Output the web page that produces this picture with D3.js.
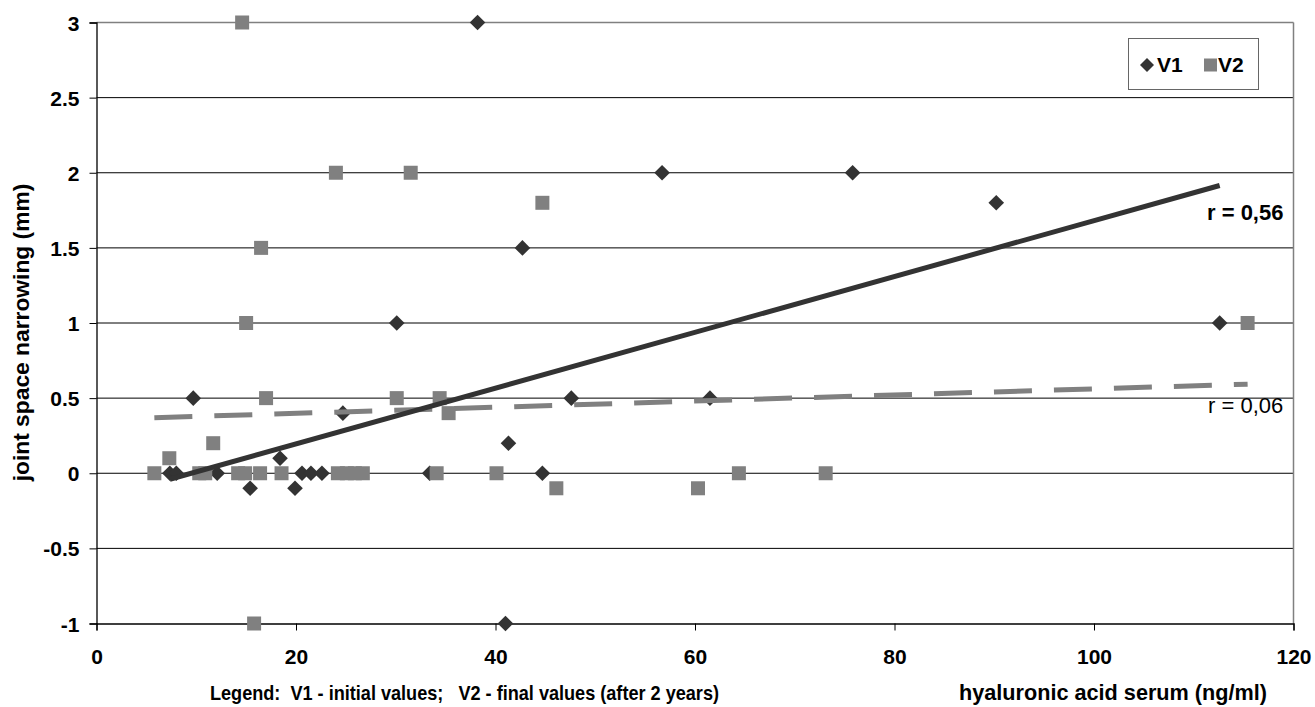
<!DOCTYPE html>
<html>
<head>
<meta charset="utf-8">
<script src="https://cdn.jsdelivr.net/npm/d3@7"></script>
<style>
  html, body { margin: 0; padding: 0; background: #fff; }
  svg { display: block; }
  text { font-family: Arial, "Liberation Sans", sans-serif; fill: #000; }
</style>
</head>
<body>
<svg id="chart" width="1315" height="707"></svg>
<script>
// ---- data ----
const v1X = [7.35, 8.0, 9.7, 12.1, 15.4, 18.4, 19.9, 20.6, 21.5, 22.6, 24.7, 30.1, 33.4, 38.2, 41.3, 41.0, 42.7, 44.7, 47.6, 56.7, 61.5, 75.8, 90.2, 112.6];
const v1Y = [0, 0, 0.5, 0, -0.1, 0.1, -0.1, 0, 0, 0, 0.4, 1, 0, 3, 0.2, -1, 1.5, 0, 0.5, 2, 0.5, 2, 1.8, 1];
const v2X = [5.8, 7.3, 10.3, 10.9, 11.7, 14.2, 14.9, 14.6, 15.0, 15.8, 16.4, 16.5, 17.0, 18.55, 24.0, 24.2, 25.1, 25.9, 26.7, 30.1, 31.5, 34.1, 34.4, 35.3, 40.1, 44.7, 46.1, 60.3, 64.4, 73.1, 115.4];
const v2Y = [0, 0.1, 0, 0, 0.2, 0, 0, 3, 1, -1, 0, 1.5, 0.5, 0, 2, 0, 0, 0, 0, 0.5, 2, 0, 0.5, 0.4, 0, 1.8, -0.1, -0.1, 0, 0, 1];
const v1TrendX = [7.35, 112.6];
const v1TrendY = [-0.04, 1.915];
const v2TrendX = [5.8, 115.4];
const v2TrendY = [0.37, 0.593];
const xTicks = [0, 20, 40, 60, 80, 100, 120];
const yTicks = [-1, -0.5, 0, 0.5, 1, 1.5, 2, 2.5, 3];
const seriesNames = ["V1", "V2"];
const rLabels = ["r = 0,56", "r = 0,06"];

// ---- layout ----
const svg = d3.select("#chart");
const L = 96.5, R = 1293.5, T = 22.5, B = 623.5;
const x = d3.scaleLinear().domain([0, 120]).range([L, R]);
const y = d3.scaleLinear().domain([-1, 3]).range([B, T]);
const cV1 = "#333333", cV2 = "#808080";

// gridlines
svg.append("g").selectAll("line").data(yTicks.filter(v => v > -1 && v < 3)).join("line")
  .attr("x1", L).attr("x2", R).attr("y1", d => y(d)).attr("y2", d => y(d))
  .attr("stroke", "#000").attr("stroke-width", 1);

// plot border (top/right grey)
svg.append("line").attr("x1", L).attr("x2", R).attr("y1", T).attr("y2", T).attr("stroke", "#808080").attr("stroke-width", 1.5);
svg.append("line").attr("x1", R).attr("x2", R).attr("y1", T).attr("y2", B).attr("stroke", "#808080").attr("stroke-width", 1.5);

// axes
const yAxis = d3.axisLeft(y).tickValues(yTicks).tickSize(7).tickPadding(10).tickFormat(d => String(d));
const gy = svg.append("g").attr("transform", `translate(${L},0)`).call(yAxis);
const xAxis = d3.axisBottom(x).tickValues(xTicks).tickSize(7).tickPadding(0).tickFormat(d => String(d));
const gx = svg.append("g").attr("transform", `translate(0,${B})`).call(xAxis);
[gy, gx].forEach(g => {
  g.select(".domain").attr("stroke", "#000").attr("stroke-width", 1.3);
  g.selectAll(".tick line").attr("stroke", "#000").attr("stroke-width", 1);
  g.selectAll(".tick text").attr("font-size", 21).attr("font-weight", "bold")
    .attr("font-family", "Arial, 'Liberation Sans', sans-serif").attr("fill", "#000");
});
gy.selectAll(".tick text").attr("dy", "0.36em");
gx.selectAll(".tick text").attr("dy", null).attr("y", 40);

// markers: V1 diamonds, then V2 squares
const diamond = (cx, cy, r) => `M${cx},${cy - r}L${cx + r},${cy}L${cx},${cy + r}L${cx - r},${cy}Z`;
svg.append("g").selectAll("path").data(v1X.map((d, i) => [d, v1Y[i]])).join("path")
  .attr("d", d => diamond(x(d[0]), y(d[1]), 7.8)).attr("fill", cV1);
svg.append("g").selectAll("rect").data(v2X.map((d, i) => [d, v2Y[i]])).join("rect")
  .attr("x", d => x(d[0]) - 7).attr("y", d => y(d[1]) - 7).attr("width", 14).attr("height", 14)
  .attr("fill", cV2);

// trendlines
const line = d3.line().x(d => x(d[0])).y(d => y(d[1]));
svg.append("path").datum(v2TrendX.map((d, i) => [d, v2TrendY[i]])).attr("d", line)
  .attr("fill", "none").attr("stroke", cV2).attr("stroke-width", 5).attr("stroke-dasharray", "38,22");
svg.append("path").datum(v1TrendX.map((d, i) => [d, v1TrendY[i]])).attr("d", line)
  .attr("fill", "none").attr("stroke", cV1).attr("stroke-width", 5);

// r labels
svg.append("text").attr("x", 1207).attr("y", 220).attr("font-size", 22).attr("font-weight", "bold").text(rLabels[0]);
svg.append("text").attr("x", 1208).attr("y", 413).attr("font-size", 22).text(rLabels[1]);

// legend box
const lg = svg.append("g");
lg.append("rect").attr("x", 1128.5).attr("y", 38.5).attr("width", 130).attr("height", 51)
  .attr("fill", "#fff").attr("stroke", "#666").attr("stroke-width", 1);
lg.append("path").attr("d", diamond(1147, 65, 7)).attr("fill", cV1);
lg.append("text").attr("x", 1157).attr("y", 72).attr("font-size", 21).attr("font-weight", "bold").text(seriesNames[0]);
lg.append("rect").attr("x", 1204).attr("y", 58.5).attr("width", 13).attr("height", 13).attr("fill", cV2);
lg.append("text").attr("x", 1218).attr("y", 72).attr("font-size", 21).attr("font-weight", "bold").text(seriesNames[1]);

// axis titles
svg.append("text").attr("transform", "translate(28.5,332.5) rotate(-90)").attr("text-anchor", "middle")
  .attr("font-size", 22.8).attr("font-weight", "bold").text("joint space narrowing (mm)");
svg.append("text").attr("x", 959).attr("y", 700).attr("font-size", 21.5).attr("font-weight", "bold")
  .attr("textLength", 308).attr("lengthAdjust", "spacingAndGlyphs")
  .text("hyaluronic acid serum (ng/ml)");
svg.append("text").attr("x", 210).attr("y", 700).attr("font-size", 21).attr("font-weight", "bold")
  .style("white-space", "pre").attr("textLength", 509).attr("lengthAdjust", "spacingAndGlyphs")
  .text("Legend:  V1 - initial values;   V2 - final values (after 2 years)");
</script>
</body>
</html>
